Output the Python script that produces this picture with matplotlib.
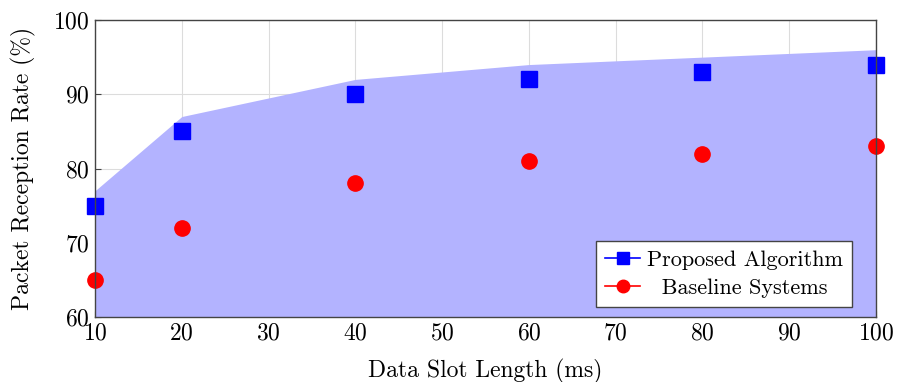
import numpy as np
import matplotlib.pyplot as plt
from matplotlib.lines import Line2D

plt.rcParams['font.family'] = 'serif'
plt.rcParams['font.serif'] = ['cmr10']
plt.rcParams['mathtext.fontset'] = 'cm'
plt.rcParams['axes.unicode_minus'] = False
plt.rcParams['axes.formatter.use_mathtext'] = True

# data
slot_len = [10, 20, 40, 60, 80, 100]
proposed = [75, 85, 90, 92, 93, 94]
baseline = [65, 72, 78, 81, 82, 83]
upper_band = [77, 87, 92, 94, 95, 96]

fig = plt.figure(figsize=(9.04, 3.82), dpi=100)
ax = fig.add_axes([95 / 904, 1 - 317 / 382, (876 - 95) / 904, (317 - 20) / 382])

ax.fill_between(slot_len, 60, upper_band, color=(179 / 255, 179 / 255, 1.0), linewidth=0, zorder=1)
ax.plot(slot_len, proposed, 's', color='blue', markersize=11, zorder=3, clip_on=False)
ax.plot(slot_len, baseline, 'o', color='red', markersize=11, zorder=3, clip_on=False)

ax.set_xlim(10, 100)
ax.set_ylim(60, 100)
ax.set_xticks(range(10, 101, 10))
ax.set_yticks(range(60, 101, 10))
ax.grid(True, color='#dcdcdc', linewidth=0.8, zorder=0)
ax.set_axisbelow(True)
ax.tick_params(direction='in', length=4, labelsize=17, color='#444444', pad=4)
for s in ax.spines.values():
    s.set_color('#444444')
    s.set_linewidth(1.0)
    s.set_zorder(4)

ax.set_xlabel('Data Slot Length (ms)', fontsize=17, labelpad=10)
ax.set_ylabel('Packet Reception Rate (%)', fontsize=17, labelpad=12)

handles = [
    Line2D([], [], color='blue', marker='s', markersize=9, linewidth=1.2),
    Line2D([], [], color='red', marker='o', markersize=9, linewidth=1.2),
]
leg = ax.legend(handles, ['Proposed Algorithm', '  Baseline Systems'], loc='lower right',
                bbox_to_anchor=((852 - 95) / 781, (317 - 307) / 297),
                fontsize=16, fancybox=False, edgecolor='#444444', framealpha=1,
                borderaxespad=0, handlelength=1.6, labelspacing=0.4,
                borderpad=0.4, handletextpad=0.3)
leg.get_frame().set_linewidth(1.0)
leg.set_zorder(5)

fig.savefig('out.png', dpi=100)
